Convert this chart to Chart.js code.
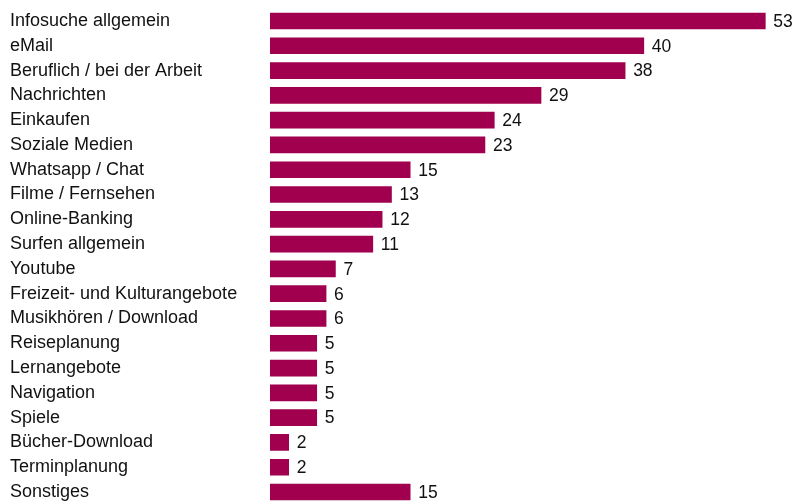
<!DOCTYPE html>
<html>
<head>
<meta charset="utf-8">
<script src="https://cdn.jsdelivr.net/npm/chart.js@4/dist/chart.umd.min.js"></script>
<style>
  html, body { margin: 0; padding: 0; background: #fff; overflow: hidden; }
  #wrap { width: 795px; height: 510px; position: relative; }
</style>
</head>
<body>
<div id="wrap"><canvas id="usageChart"></canvas></div>
<script>
// Kategorien und Werte
const categories = [
    'Infosuche allgemein', 'eMail', 'Beruflich / bei der Arbeit', 'Nachrichten',
    'Einkaufen', 'Soziale Medien', 'Whatsapp / Chat', 'Filme / Fernsehen',
    'Online-Banking', 'Surfen allgemein', 'Youtube', 'Freizeit- und Kulturangebote',
    'Musikhören / Download', 'Reiseplanung', 'Lernangebote', 'Navigation',
    'Spiele', 'Bücher-Download', 'Terminplanung', 'Sonstiges'
];
const values = [53, 40, 38, 29, 24, 23, 15, 13, 12, 11, 7, 6, 6, 5, 5, 5, 5, 2, 2, 15];

const barColor = '#A0004D';
const fontFamily = '"Liberation Sans", Arial, sans-serif';

// Werte rechts neben den Balken
const valueLabels = {
    id: 'valueLabels',
    afterDatasetsDraw(chart) {
        const ctx = chart.ctx;
        const meta = chart.getDatasetMeta(0);
        ctx.save();
        ctx.font = '17.5px ' + fontFamily;
        ctx.fillStyle = '#111';
        ctx.textAlign = 'left';
        ctx.textBaseline = 'middle';
        meta.data.forEach((bar, i) => {
            ctx.fillText(String(values[i]), bar.x + 8, bar.y + 1);
        });
        ctx.restore();
    }
};

const ctx = document.getElementById('usageChart').getContext('2d');
const usageChart = new Chart(ctx, {
    type: 'bar',
    data: {
        labels: categories,
        datasets: [{
            data: values,
            backgroundColor: barColor,
            borderWidth: 0,
            barThickness: 16
        }]
    },
    options: {
        indexAxis: 'y',
        responsive: true,
        maintainAspectRatio: false,
        animation: false,
        layout: {
            padding: { left: 10, right: 11, top: 8.6, bottom: 5.6 }
        },
        plugins: {
            legend: { display: false },
            tooltip: { enabled: false }
        },
        scales: {
            x: {
                display: false,
                min: 0,
                max: 55
            },
            y: {
                grid: { display: false },
                border: { display: false },
                afterFit(scale) {
                    scale.width = 260;
                    scale.paddingTop = 0;
                    scale.paddingBottom = 0;
                },
                ticks: {
                    crossAlign: 'far',
                    color: '#111',
                    autoSkip: false,
                    font: { family: fontFamily, size: 18 }
                }
            }
        }
    },
    plugins: [valueLabels]
});
</script>
</body>
</html>
